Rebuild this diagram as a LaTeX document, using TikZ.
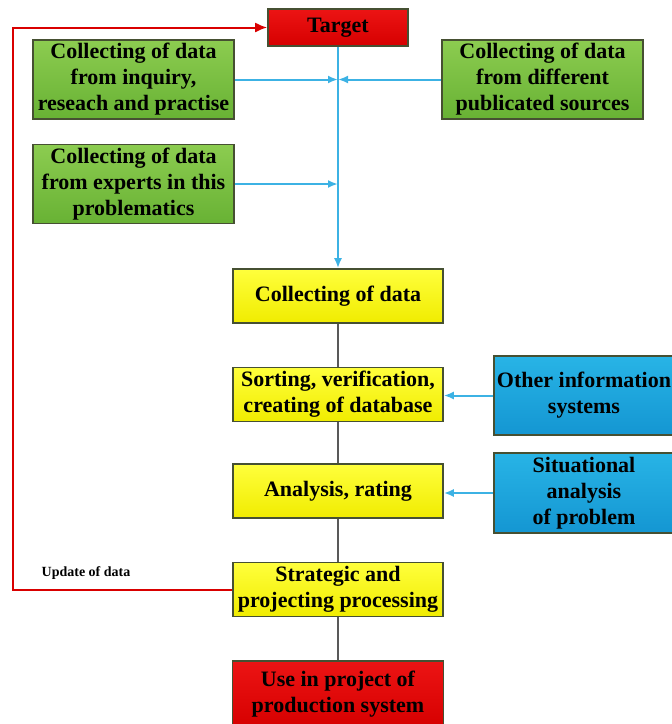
\documentclass[tikz,border=0pt]{standalone}
\usepackage{fontspec}
\setmainfont{Liberation Serif}
\usetikzlibrary{positioning,arrows.meta}
\definecolor{grnTop}{RGB}{140,204,80}
\definecolor{grnBot}{RGB}{104,178,52}
\definecolor{ylwTop}{RGB}{255,255,60}
\definecolor{ylwBot}{RGB}{240,236,0}
\definecolor{redTop}{RGB}{236,20,20}
\definecolor{redBot}{RGB}{214,0,0}
\definecolor{bluTop}{RGB}{40,180,230}
\definecolor{bluBot}{RGB}{20,150,210}
\definecolor{lineBlue}{RGB}{60,178,228}
\definecolor{frame}{RGB}{70,80,50}
\tikzset {
    style A/.style={
        top color=grnTop,
        bottom color=grnBot,
        draw=frame,
        thick,
        rectangle, % green source boxes
        minimum width=100.5pt,
        minimum height=39.5pt,
        inner sep=0.5pt,
        align=center,
    },
    style B/.style={
        top color=ylwTop,
        bottom color=ylwBot,
        draw=frame,
        thick,
        rectangle, % yellow process steps
        minimum width=105pt,
        minimum height=27pt,
        inner sep=0.5pt,
        align=center,
    },
    style C/.style={
        top color=redTop,
        bottom color=redBot,
        draw=frame,
        thick,
        rectangle, % red start and end
        inner sep=0.5pt,
        align=center,
    },
    style D/.style={
        top color=bluTop,
        bottom color=bluBot,
        draw=frame,
        thick,
        rectangle, % blue outside inputs
        minimum width=90pt,
        inner sep=0.5pt,
        align=center,
    },
}

\begin{document}
\begin{tikzpicture}
[x=0.5pt, y=-0.5pt, font=\bfseries\fontsize{11}{13}\selectfont,
 blue arrow/.style={draw=lineBlue, line width=1pt, -{Latex[length=5pt,width=4pt]}},
 gray line/.style={draw=black!65, line width=1pt}]
\useasboundingbox (0,0) rectangle (672,724);

\node[style C, minimum width=70pt, minimum height=18.5pt] at (338, 27.5) (target) {Target};
\node[style A] at (133.5, 79.5) (inquiry) {Collecting of data\\from inquiry,\\reseach and practise};
\node[style A] at (542.5, 79.5) (sources) {Collecting of data\\from different\\publicated sources};
\node[style A] at (133.5, 184) (experts) {Collecting of data\\from experts in this\\problematics};
\node[style B] at (338, 296) (collect) {Collecting of data};
\node[style B] at (338, 394.5) (sorting) {Sorting, verification,\\creating of database};
\node[style B] at (338, 491) (analysis) {Analysis, rating};
\node[style B] at (338, 589.5) (strategic) {Strategic and\\projecting processing};
\node[style C, minimum width=105.5pt, minimum height=33pt] at (338, 694) (use) {Use in project of\\production system};
\node[style D, minimum height=39.5pt] at (584, 395.5) (other) {Other information\\systems};
\node[style D, minimum height=40pt] at (584, 493) (situation) {Situational\\analysis\\of problem};
\node[draw=none, font=\bfseries\fontsize{7}{8}\selectfont] at (86, 573) (update) {Update of data};

\coordinate (corner) at (13, 587);

\draw[blue arrow] (target) -- (collect);
\draw[blue arrow] (inquiry.east) -- (inquiry.east -| target);
\draw[blue arrow] (sources.west) -- (sources.west -| target);
\draw[blue arrow] (experts.east) -- (experts.east -| target);
\draw[blue arrow] (other.west) -- (other.west -| sorting.east);
\draw[blue arrow] (situation.west) -- (situation.west -| analysis.east);
\draw[gray line] (collect) -- (sorting);
\draw[gray line] (sorting) -- (analysis);
\draw[gray line] (analysis) -- (strategic);
\draw[gray line] (strategic) -- (use);
\draw[red!85!black, line width=1pt, -{Latex[length=6pt,width=5pt]}] (strategic.west) -- (strategic.west -| corner) |- (target.west);
\end{tikzpicture}
\end{document}
